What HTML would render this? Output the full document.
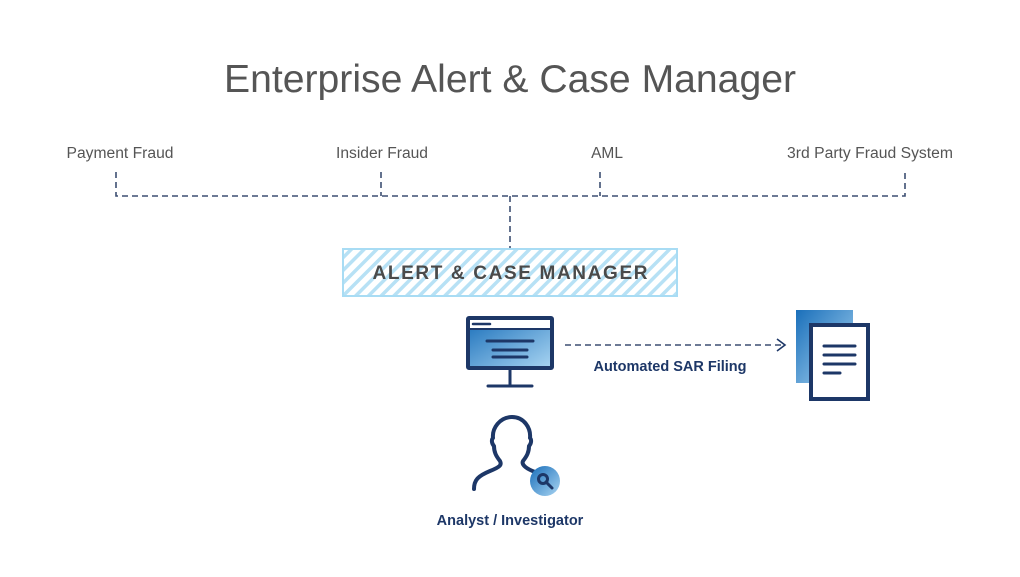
<!DOCTYPE html>
<html><head><style>
body{margin:0;background:#fff;width:1020px;height:572px;overflow:hidden}
svg text{font-family:"Liberation Sans",sans-serif}
</style></head><body>
<svg width="1020" height="572" viewBox="0 0 1020 572" xmlns="http://www.w3.org/2000/svg">
<defs>
<pattern id="h" patternUnits="userSpaceOnUse" width="9" height="9" patternTransform="rotate(45)">
<rect width="9" height="9" fill="#fff"/><rect width="3.5" height="9" fill="#b7e1f5"/>
</pattern>
<linearGradient id="g" x1="0" y1="0" x2="1" y2="1">
<stop offset="0" stop-color="#1a6fba"/><stop offset="1" stop-color="#a9d5f2"/>
</linearGradient>
</defs>
<text x="510" y="92" text-anchor="middle" font-size="39" fill="#555" textLength="572" lengthAdjust="spacingAndGlyphs">Enterprise Alert &amp; Case Manager</text>
<g font-size="15.5" fill="#555">
<text x="120" y="158" text-anchor="middle" textLength="107" lengthAdjust="spacingAndGlyphs">Payment Fraud</text>
<text x="382" y="158" text-anchor="middle" textLength="92" lengthAdjust="spacingAndGlyphs">Insider Fraud</text>
<text x="607" y="158" text-anchor="middle">AML</text>
<text x="870" y="158" text-anchor="middle" textLength="166" lengthAdjust="spacingAndGlyphs">3rd Party Fraud System</text>
</g>
<g stroke="#3d4f72" stroke-width="1.6" stroke-dasharray="6,4" fill="none">
<path d="M116 172V196H905V172"/>
<path d="M381 172V196M600 172V196"/>
<path d="M510 196V248"/>
<path d="M565 345H785"/>
</g>
<path d="M777 339L785 345L777 351" stroke="#1d3767" stroke-width="1.6" fill="none"/>
<rect x="343" y="249" width="334" height="47" fill="url(#h)" stroke="#a8dcf4" stroke-width="2"/>
<text x="510" y="279" text-anchor="middle" font-size="19" font-weight="bold" fill="#4a4a4a" textLength="275" lengthAdjust="spacing">ALERT &amp; CASE MANAGER</text>
<rect x="468" y="318" width="84" height="50" fill="url(#g)" stroke="#1d3767" stroke-width="4" rx="1"/>
<rect x="470" y="320" width="80" height="8" fill="#fff"/>
<line x1="470" y1="329" x2="550" y2="329" stroke="#1d3767" stroke-width="2"/>
<line x1="473" y1="324" x2="490" y2="324" stroke="#1d3767" stroke-width="2.5" stroke-linecap="round"/>
<g stroke="#1d3767" stroke-width="3" stroke-linecap="round">
<line x1="487" y1="341" x2="533" y2="341"/>
<line x1="493" y1="350" x2="527" y2="350"/>
<line x1="493" y1="357" x2="527" y2="357"/>
<line x1="510" y1="368" x2="510" y2="385"/>
<line x1="488" y1="386" x2="532" y2="386"/>
</g>
<text x="670" y="371" text-anchor="middle" font-size="14.5" font-weight="bold" fill="#1d3767">Automated SAR Filing</text>
<rect x="796" y="310" width="57" height="73" fill="url(#g)"/>
<rect x="811" y="325" width="57" height="74" fill="#fff" stroke="#1d3767" stroke-width="4"/>
<g stroke="#1d3767" stroke-width="3" stroke-linecap="round">
<line x1="824" y1="346" x2="855" y2="346"/>
<line x1="824" y1="355" x2="855" y2="355"/>
<line x1="824" y1="364" x2="855" y2="364"/>
<line x1="824" y1="373" x2="840" y2="373"/>
</g>
<path d="M474 489C474 480 478 476 490 471C500 467 502 465 500 461C496 456 494 452 494 446C492 444 491 440 493 438C492 428 500 417 512 417C524 417 531 428 530 438C532 440 531 444 529 446C529 452 527 456 523 461C521 465 527 469 535 472" fill="none" stroke="#1d3767" stroke-width="4" stroke-linecap="round" stroke-linejoin="round"/>
<circle cx="545" cy="481" r="15" fill="url(#g)"/>
<circle cx="543" cy="479" r="4.5" fill="none" stroke="#1d3767" stroke-width="3"/>
<line x1="546" y1="482" x2="552" y2="488" stroke="#1d3767" stroke-width="3" stroke-linecap="round"/>
<text x="510" y="525" text-anchor="middle" font-size="14.5" font-weight="bold" fill="#1d3767">Analyst / Investigator</text>
</svg>
</body></html>
